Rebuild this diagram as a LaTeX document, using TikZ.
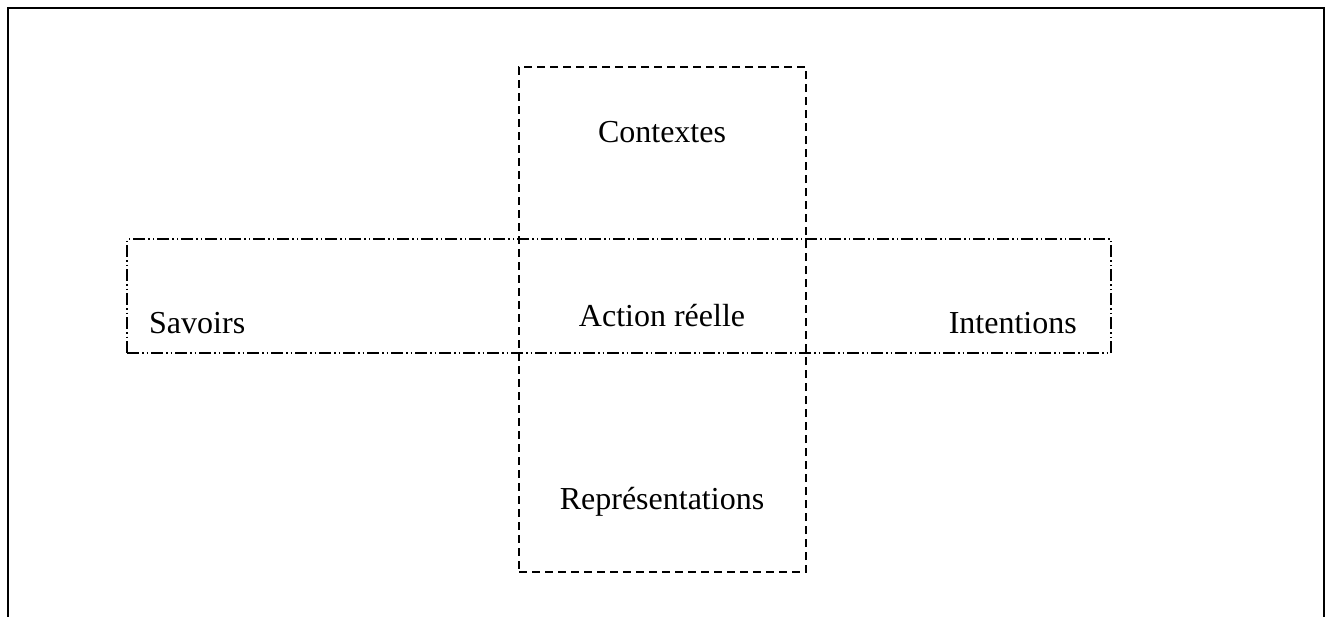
\documentclass[tikz,border=0pt]{standalone}
\usepackage{fontspec}
\setmainfont{Liberation Serif}
\begin{document}
\begin{tikzpicture}[x=1pt,y=-1pt,
  lbl/.style={anchor=base,inner sep=0pt,font=\fontsize{32}{38}\selectfont},
  vbox/.style={draw,line width=1.4pt,dash pattern=on 8pt off 5pt,minimum width=287pt,minimum height=505pt,inner sep=0pt},
  hbox/.style={draw,line width=1.2pt,dash pattern=on 12pt off 3pt on 1.5pt off 3pt on 1.5pt off 3pt,minimum width=984pt,minimum height=114pt,inner sep=0pt},
  frame/.style={draw,line width=2.5pt}]
\useasboundingbox (0,0) rectangle (1329,616);
\begin{scope}
\clip (0,0) rectangle (1329,616);
\draw[frame] (8,640) -- (8,8) -- (1324,8) -- (1324,640);
\end{scope}
\node[vbox] (vertical) at (662.5,319.5) {};
\node[hbox] (horizontal) at (619,296) {};
\node[lbl] (ctx) at (662,142) {Contextes};
\node[lbl] (act) at (662,326) {Action réelle};
\node[lbl] (rep) at (662,509) {Représentations};
\node[lbl,anchor=base west] (sav) at (149,333) {Savoirs};
\node[lbl,anchor=base east] (int) at (1077,333) {Intentions};
\end{tikzpicture}
\end{document}
